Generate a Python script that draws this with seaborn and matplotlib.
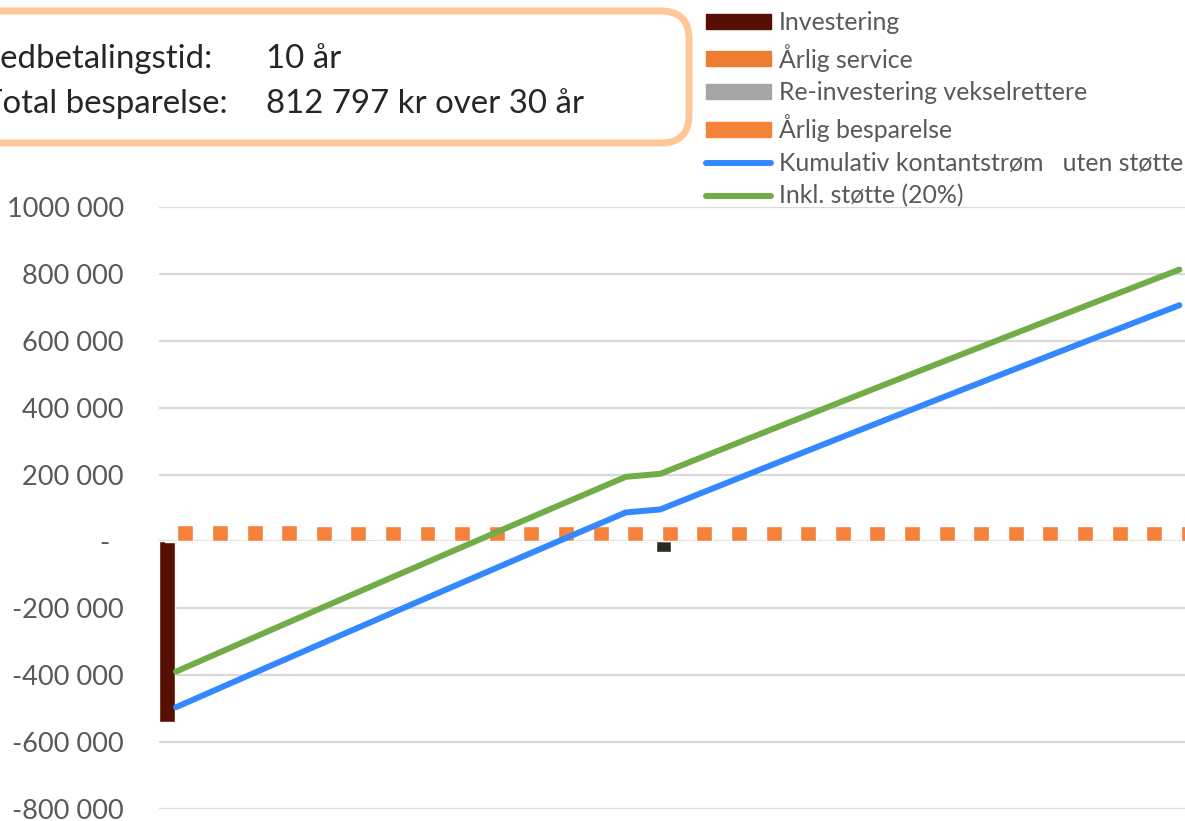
import numpy as np
import pandas as pd
import matplotlib
matplotlib.use("Agg")
import matplotlib.pyplot as plt
import seaborn as sns
from matplotlib.patches import FancyBboxPatch, Patch
from matplotlib.lines import Line2D

# Data (years 0..29)
years = list(range(30))
investering = [-540000] + [0] * 29
arlig_service = [-3000] * 30
reinvestering = [0] * 14 + [-32000] + [0] * 15
arlig_besparelse = [48000, 47900, 47800, 47700, 47600, 47500, 47400, 47300, 47200, 47100,
                    47000, 46900, 46800, 46700, 46600, 46500, 46400, 46300, 46200, 46100,
                    46000, 45900, 45800, 45700, 45600, 45500, 45400, 45300, 45200, 45100]
kumulativ = [-495700, -450300, -405000, -359800, -314700, -269700, -224800, -180000, -135300, -90700,
             -46200, -1800, 42500, 86700, 95800, 137200, 178500, 219700, 260800, 301800,
             342700, 383500, 424200, 464800, 505300, 545700, 586000, 626200, 666300, 706300]
inkl_stotte = [-389200, -343800, -298500, -253300, -208200, -163200, -118300, -73500, -28800, 15800,
               60300, 104700, 149000, 193200, 202300, 243700, 285000, 326200, 367300, 408300,
               449200, 490000, 530700, 571300, 611800, 652200, 692500, 732700, 772800, 812797]

ytick_vals = [-800000, -600000, -400000, -200000, 0, 200000, 400000, 600000, 800000, 1000000]
ytick_labels = ["-800 000", "-600 000", "-400 000", "-200 000", "-  ",
                "200 000", "400 000", "600 000", "800 000", "1000 000"]

legend_labels = ["Investering", "Årlig service", "Re-investering vekselrettere",
                 "Årlig besparelse", "Kumulativ kontantstrøm   uten støtte", "Inkl. støtte (20%)"]

df = pd.DataFrame({"year": years, "kumulativ": kumulativ, "inkl": inkl_stotte})

sns.set_theme(style="white")
plt.rcParams["font.family"] = ["Lato", "DejaVu Sans"]

fig = plt.figure(figsize=(11.85, 8.21), dpi=100)
ax = fig.add_axes([158.7 / 1185, 12 / 821, 1038 / 1185, 602 / 821])

x = np.array(years)
w = 0.46
ax.bar(x - 0.27, investering, width=w, color="#560F00", zorder=2)
ax.bar(x - 0.09, arlig_service, width=w, color="#ED7D31", zorder=2)
ax.bar(x + 0.09, reinvestering, width=w, color="#2B291F", zorder=2)
ax.bar(x + 0.27, arlig_besparelse, width=w, color="#F5813A", zorder=2)

sns.lineplot(data=df, x="year", y="kumulativ", ax=ax, color="#3388FF", lw=4.3,
             solid_capstyle="round", zorder=3)
sns.lineplot(data=df, x="year", y="inkl", ax=ax, color="#70AD47", lw=4.3,
             solid_capstyle="round", zorder=3)

ax.set_xlim(-0.5, 29.5)
ax.set_ylim(-800000, 1000000)
ax.set_yticks(ytick_vals)
ax.set_yticklabels(ytick_labels, color="#595959", fontsize=19.5)
ax.set_xticks([])
ax.set_xlabel("")
ax.set_ylabel("")
ax.tick_params(axis="y", length=0, pad=25)
ax.yaxis.grid(True, color="#D9D9D9", lw=1.6)
ax.set_axisbelow(True)
for s in ax.spines.values():
    s.set_visible(False)

# legend
handles = [Patch(color="#560F00"), Patch(color="#ED7D31"), Patch(color="#A5A5A5"),
           Patch(color="#F5813A"),
           Line2D([], [], color="#3388FF", lw=4.3, solid_capstyle="round"),
           Line2D([], [], color="#70AD47", lw=4.3, solid_capstyle="round")]
fig.legend(handles, legend_labels, loc="upper left", bbox_to_anchor=(706 / 1185, 1 - 11 / 821),
           frameon=False, fontsize=17.9, labelcolor="#595959", handlelength=2.62,
           handleheight=0.56, handletextpad=0.3, labelspacing=0.39, borderpad=0,
           borderaxespad=0)

# info box
ov = fig.add_axes([0, 0, 1, 1])
ov.set_xlim(0, 1185)
ov.set_ylim(821, 0)
ov.axis("off")
box = FancyBboxPatch((-60, 11), 749, 132, boxstyle="round,pad=0,rounding_size=28",
                     lw=5, ec="#FFC797", fc="white")
ov.add_patch(box)
ov.text(-25, 68, "Nedbetalingstid:", fontsize=23.8, color="#262626", va="baseline")
ov.text(266, 68, "10 år", fontsize=23.8, color="#262626", va="baseline")
ov.text(-17, 113, "Total besparelse:", fontsize=23.8, color="#262626", va="baseline")
ov.text(266, 113, "812 797 kr over 30 år", fontsize=23.8, color="#262626", va="baseline")

fig.savefig("out.png", dpi=100)
